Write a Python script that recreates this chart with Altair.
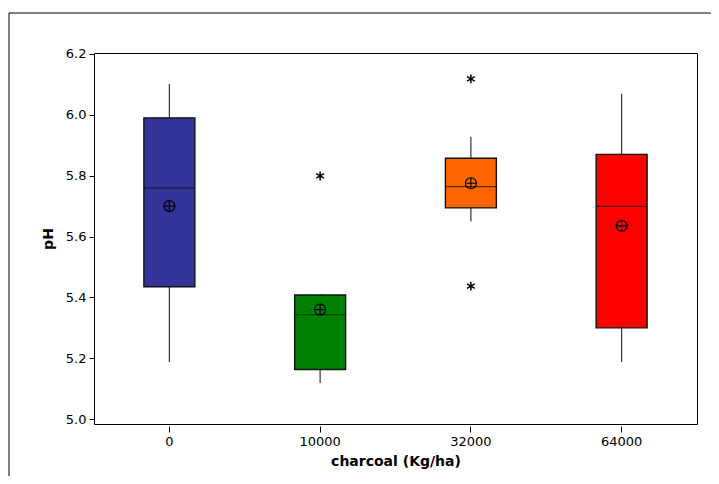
import altair as alt
import pandas as pd

categories = ["0", "10000", "32000", "64000"]
q1 = [5.435, 5.163, 5.694, 5.300]
q3 = [5.990, 5.408, 5.857, 5.870]
median = [5.760, 5.343, 5.764, 5.699]
mean = [5.700, 5.360, 5.775, 5.635]
whisker_lo = [5.188, 5.119, 5.649, 5.188]
whisker_hi = [6.101, 5.411, 5.928, 6.069]
outlier_cat = ["10000", "32000", "32000"]
outlier_val = [5.799, 6.118, 5.437]
colors = ["#333399", "#008000", "#FF6600", "#FF0000"]
y_ticks = [5.0, 5.2, 5.4, 5.6, 5.8, 6.0, 6.2]

df = pd.DataFrame({
    "cat": categories, "q1": q1, "q3": q3, "median": median,
    "mean": mean, "lo": whisker_lo, "hi": whisker_hi,
})
out_df = pd.DataFrame({"cat": outlier_cat, "val": outlier_val})
frame_df = pd.DataFrame({"a": [0]})

FONT = "DejaVu Sans"

xscale = alt.Scale(type="band", domain=categories, paddingInner=0.662, paddingOuter=0.331)
yscale = alt.Scale(domain=[4.984, 6.203], nice=False, zero=False)

x_enc = alt.X("cat:N", sort=categories, scale=xscale,
              axis=alt.Axis(title="charcoal (Kg/ha)", labelAngle=0, domain=False,
                            offset=2, tickSize=6, labelPadding=3, titlePadding=6))
y_axis = alt.Axis(title="pH", values=y_ticks, format=".1f", domain=False, grid=False,
                  tickSize=5, labelPadding=3, titlePadding=10)

base = alt.Chart(df)

whiskers = base.mark_rule(color="#333333", strokeWidth=1.2).encode(
    x=x_enc,
    y=alt.Y("lo:Q", scale=yscale, axis=y_axis),
    y2="hi:Q",
)

boxes = base.mark_bar(stroke="#111111", strokeWidth=1.4).encode(
    x=x_enc,
    y=alt.Y("q1:Q", scale=yscale, axis=y_axis),
    y2="q3:Q",
    color=alt.Color("cat:N", sort=categories,
                    scale=alt.Scale(domain=categories, range=colors), legend=None),
)

medians = base.mark_tick(color="#111111", thickness=1.2, size=51).encode(
    x=x_enc,
    y=alt.Y("median:Q", scale=yscale, axis=y_axis),
)

mean_shape = "M-1,0A1,1 0 1,1 1,0A1,1 0 1,1 -1,0ZM-1,0L1,0M0,-1L0,1"
means = base.mark_point(shape=mean_shape, size=121, filled=False, stroke="black",
                        strokeWidth=1.2, opacity=1).encode(
    x=x_enc,
    y=alt.Y("mean:Q", scale=yscale, axis=y_axis),
)

star_shape = "M0,-1L0,1M-0.87,-0.5L0.87,0.5M-0.87,0.5L0.87,-0.5"
outliers = alt.Chart(out_df).mark_point(shape=star_shape, size=80, filled=False,
                                         stroke="black", strokeWidth=1.5, opacity=1).encode(
    x=x_enc,
    y=alt.Y("val:Q", scale=yscale, axis=y_axis),
)

outer = alt.Chart(frame_df).mark_rect(fill=None, stroke="black", strokeWidth=1).encode(
    x=alt.value(-85), x2=alt.value(720), y=alt.value(-40), y2=alt.value(500)
)

chart = alt.layer(outer, whiskers, boxes, medians, means, outliers).properties(
    width=603, height=371,
    autosize=alt.AutoSizeParams(type="none"),
    padding={"left": 86, "top": 45, "right": 14, "bottom": 52},
).configure_view(
    stroke="black", strokeWidth=1
).configure_axis(
    labelFont=FONT, labelFontSize=13, labelColor="black",
    titleFont=FONT, titleFontSize=14, titleFontWeight="bold", titleColor="black",
    tickColor="black", tickWidth=1,
)

chart.save("out.html", embed_options={"renderer": "svg", "actions": False})
